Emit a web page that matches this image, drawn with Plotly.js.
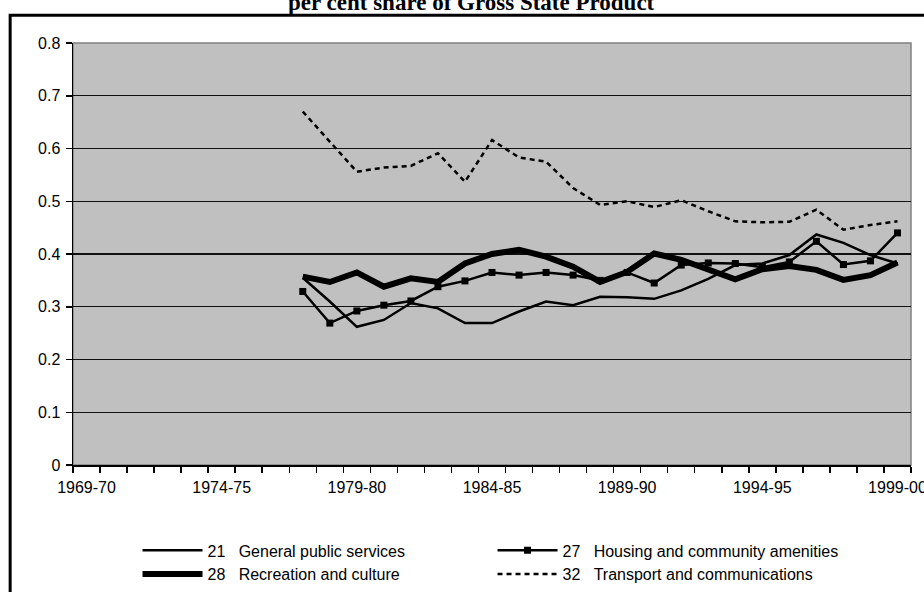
<!DOCTYPE html>
<html>
<head>
<meta charset="utf-8">
<script src="https://cdn.plot.ly/plotly-3.0.1.min.js"></script>
<style>html,body{margin:0;padding:0;background:#fff;}#chart{width:924px;height:592px;}</style>
</head>
<body>
<div id="chart"></div>
<script>
// All financial years on the axis
var allYears = ['1969-70','1970-71','1971-72','1972-73','1973-74','1974-75','1975-76','1976-77',
  '1977-78','1978-79','1979-80','1980-81','1981-82','1982-83','1983-84','1984-85','1985-86',
  '1986-87','1987-88','1988-89','1989-90','1990-91','1991-92','1992-93','1993-94','1994-95',
  '1995-96','1996-97','1997-98','1998-99','1999-00'];
// Labelled ticks
var labelYears = ['1969-70','1974-75','1979-80','1984-85','1989-90','1994-95','1999-00'];
// Years with data
var dataYears = ['1977-78','1978-79','1979-80','1980-81','1981-82','1982-83','1983-84','1984-85',
  '1985-86','1986-87','1987-88','1988-89','1989-90','1990-91','1991-92','1992-93','1993-94',
  '1994-95','1995-96','1996-97','1997-98','1998-99','1999-00'];

var general21 = [0.355,0.310,0.262,0.275,0.307,0.297,0.269,0.269,0.291,0.310,0.303,0.319,
  0.318,0.315,0.331,0.353,0.379,0.382,0.398,0.437,0.421,0.398,0.382];
var housing27 = [0.329,0.269,0.292,0.303,0.311,0.338,0.349,0.365,0.360,0.365,0.360,0.350,
  0.365,0.345,0.379,0.383,0.382,0.375,0.385,0.424,0.380,0.387,0.440];
var recreation28 = [0.357,0.347,0.365,0.338,0.354,0.347,0.382,0.400,0.408,0.395,0.376,0.347,
  0.366,0.401,0.389,0.370,0.352,0.371,0.377,0.370,0.351,0.360,0.384];
var transport32 = [0.670,0.613,0.556,0.564,0.567,0.591,0.537,0.616,0.583,0.575,0.525,0.493,
  0.500,0.489,0.502,0.481,0.462,0.460,0.461,0.484,0.446,0.455,0.462];

var seriesNames = ['21\u00a0\u00a0\u00a0General public services',
  '27\u00a0\u00a0\u00a0Housing and community amenities',
  '28\u00a0\u00a0\u00a0Recreation and culture',
  '32\u00a0\u00a0\u00a0Transport and communications'];

var tickText = allYears.map(function(y){ return labelYears.indexOf(y) >= 0 ? y : ''; });

var FONT = 'Liberation Sans, Arial, sans-serif';

var traces = [
  {x: dataYears, y: general21, name: seriesNames[0], type: 'scatter', mode: 'lines',
   line: {color: '#000', width: 2.5}},
  {x: dataYears, y: housing27, name: seriesNames[1], type: 'scatter', mode: 'lines+markers',
   line: {color: '#000', width: 2.5}, marker: {symbol: 'square', size: 7, color: '#000'}},
  {x: dataYears, y: recreation28, name: seriesNames[2], type: 'scatter', mode: 'lines',
   line: {color: '#000', width: 6}},
  {x: dataYears, y: transport32, name: seriesNames[3], type: 'scatter', mode: 'lines',
   line: {color: '#000', width: 2.5, dash: '5px,4px'}}
];

var layout = {
  width: 924, height: 592,
  margin: {l: 73, r: 13, t: 43, b: 127, pad: 0, autoexpand: false},
  paper_bgcolor: '#fff',
  plot_bgcolor: '#c0c0c0',
  font: {family: FONT, size: 16, color: '#000'},
  showlegend: true,
  legend: {
    orientation: 'h', x: 0.077, xanchor: 'left', y: -0.162, yanchor: 'top',
    itemwidth: 60, entrywidth: 280, entrywidthmode: 'pixels',
    font: {family: FONT, size: 16, color: '#000'},
    bgcolor: 'rgba(0,0,0,0)', traceorder: 'normal'
  },
  xaxis: {
    type: 'category', categoryorder: 'array', categoryarray: allYears,
    range: [-0.5, 30.5], tickmode: 'array', tickvals: allYears, ticktext: tickText,
    tickangle: 0, ticklabelstandoff: 7,
    tickson: 'boundaries', ticks: 'outside', ticklen: 6, tickwidth: 1.5, tickcolor: '#000',
    showline: true, linecolor: '#000', linewidth: 1.5, showgrid: false, zeroline: false,
    automargin: false, tickfont: {family: FONT, size: 16, color: '#000'}, fixedrange: true
  },
  yaxis: {
    range: [0, 0.8], dtick: 0.1, tick0: 0, ticks: 'outside', ticklen: 6, tickwidth: 1.5,
    ticklabelstandoff: 2,
    tickcolor: '#000', showline: true, linecolor: '#000', linewidth: 1.5,
    showgrid: true, gridcolor: '#111', gridwidth: 1.2, zeroline: false, automargin: false,
    tickfont: {family: FONT, size: 16, color: '#000'}, fixedrange: true
  },
  shapes: [
    {type: 'rect', xref: 'paper', yref: 'paper', x0: 0, x1: 1, y0: 0, y1: 1,
     line: {color: '#808080', width: 1.5}, fillcolor: 'rgba(0,0,0,0)', layer: 'below'},
    {type: 'rect', xref: 'paper', yref: 'paper', x0: -0.075, x1: 1.04, y0: -0.35, y1: 1.066,
     line: {color: '#000', width: 3}, fillcolor: 'rgba(0,0,0,0)', layer: 'above'}
  ],
  annotations: [
    {text: 'per cent share of Gross State Product', xref: 'paper', yref: 'paper',
     x: 0.476, y: 1.0616, xanchor: 'center', yanchor: 'bottom', showarrow: false,
     font: {family: 'Liberation Serif, Times New Roman, serif', size: 23, color: '#000', weight: 'bold'}}
  ]
};

Plotly.newPlot('chart', traces, layout, {staticPlot: true, displayModeBar: false});
</script>
</body>
</html>
